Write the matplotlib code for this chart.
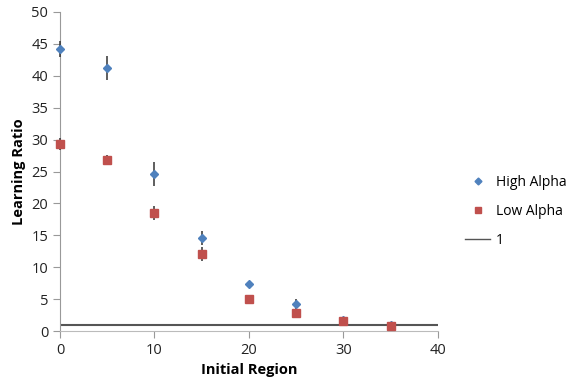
import numpy as np
import matplotlib.pyplot as plt
from matplotlib.lines import Line2D

plt.rcParams['font.family'] = ['Open Sans', 'DejaVu Sans']

regions = [0, 5, 10, 15, 20, 25, 30, 35]
high_alpha = [44.2, 41.2, 24.6, 14.6, 7.4, 4.3, 1.8, 0.9]
high_err = [1.3, 1.9, 1.9, 1.1, 0.3, 0.8, 0.3, 0.2]
low_alpha = [29.3, 26.8, 18.5, 12.1, 5.1, 2.9, 1.6, 0.8]
low_err = [0.9, 0.8, 1.1, 1.1, 0.2, 0.3, 0.4, 0.2]
ref_x = [0, 40]
ref_y = [1, 1]

fig = plt.figure(figsize=(5.71, 3.85), dpi=100)
ax = fig.add_axes([0.105, 0.14, 0.662, 0.829])

eb1 = ax.errorbar(regions, high_alpha, yerr=high_err, fmt='D', color='#4F81BD',
                  ms=4, ecolor='#333333', elinewidth=1.1, capsize=0, zorder=3)
eb2 = ax.errorbar(regions, low_alpha, yerr=low_err, fmt='s', color='#C0504D',
                  ms=6, ecolor='#333333', elinewidth=1.1, capsize=0, zorder=3)
for eb in (eb1, eb2):
    eb[0].set_clip_on(False)
    for c in eb[2]:
        c.set_clip_on(False)
ax.plot(ref_x, ref_y, color='#555555', lw=1.5, zorder=2)

ax.set_xlim(0, 40)
ax.set_ylim(0, 50)
ax.set_xticks(range(0, 41, 10))
ax.set_yticks(range(0, 51, 5))
ax.tick_params(axis='both', direction='out', length=5, color='#999999',
               labelsize=10.5, labelcolor='#222222')
for s in ['top', 'right']:
    ax.spines[s].set_visible(False)
ax.spines['left'].set_color('#999999')
ax.spines['bottom'].set_color('#bbbbbb')

ax.set_xlabel('Initial Region', fontsize=10.5, fontweight='bold')
ax.set_ylabel('Learning Ratio', fontsize=10.5, fontweight='bold')

handles = [Line2D([], [], ls='none', marker='D', ms=3.5, color='#4F81BD'),
           Line2D([], [], ls='none', marker='s', ms=5, color='#C0504D'),
           Line2D([], [], color='#555555', lw=1)]
fig.legend(handles, ['High Alpha', 'Low Alpha', '1'], loc='center left',
           bbox_to_anchor=(0.815, 0.45), frameon=False, fontsize=10,
           handlelength=1.8, handletextpad=0.4, labelspacing=1.0,
           borderaxespad=0, borderpad=0)

fig.savefig('out.png', dpi=100)
